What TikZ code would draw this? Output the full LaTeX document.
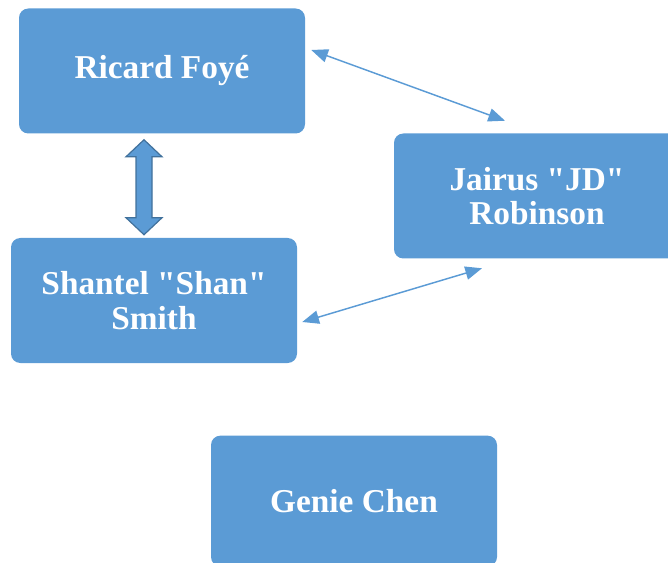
\documentclass[tikz,border=0pt]{standalone}
\usepackage{fontspec}
\setmainfont{Liberation Serif}
\usepackage{xcolor}
\usetikzlibrary{arrows.meta, calc, positioning}
\definecolor{boxblue}{RGB}{91,155,213}
\definecolor{edgeblue}{RGB}{65,113,156}

\begin{document}
\begin{tikzpicture}[x=0.75pt, y=-0.75pt, >={Triangle[length=12.5pt,width=10pt]},
    person/.style={fill=boxblue, draw=none, rounded corners=7pt, minimum width=214.5pt, minimum height=93.75pt,
        text=white, align=center, font=\fontsize{25}{26}\selectfont\bfseries},
    link/.style={<->, boxblue, line width=1.1pt},
    blockarrow/.style={fill=boxblue, draw=edgeblue, line width=0.9pt, line join=miter}]
    \useasboundingbox (0,0) rectangle (668,563);

    % People
    \node[person] (ricard) at (162,71) {Ricard Foyé};
    \node[person] (jairus) at (537,196) {Jairus \textquotedbl JD\textquotedbl\\Robinson};
    \node[person] (shantel) at (154,300.5) {Shantel \textquotedbl Shan\textquotedbl\\Smith};
    \node[person, minimum height=98pt] (genie) at (354,501) {Genie Chen};

    % Thick two-way arrow
    \coordinate (ra) at ($(ricard.south)+(-18,6)$);
    \coordinate (sa) at ($(shantel.north)+(-10,-3)$);
    \draw[blockarrow] (ra) -- ++(18,17) -- ++(-10,0) -- ($(sa)+(8,-17)$) -- ++(10,0) -- (sa)
        -- ++(-18,-17) -- ++(10,0) -- ($(ra)+(-8,17)$) -- ++(-10,0) -- cycle;

    % Thin two-way arrows
    \draw[link] ($(ricard.east)+(6,-21)$) -- ($(jairus.north)+(-32,-12.5)$);
    \draw[link] ($(jairus.south)+(-55,9.5)$) -- ($(shantel.east)+(5,21.5)$);
\end{tikzpicture}
\end{document}
